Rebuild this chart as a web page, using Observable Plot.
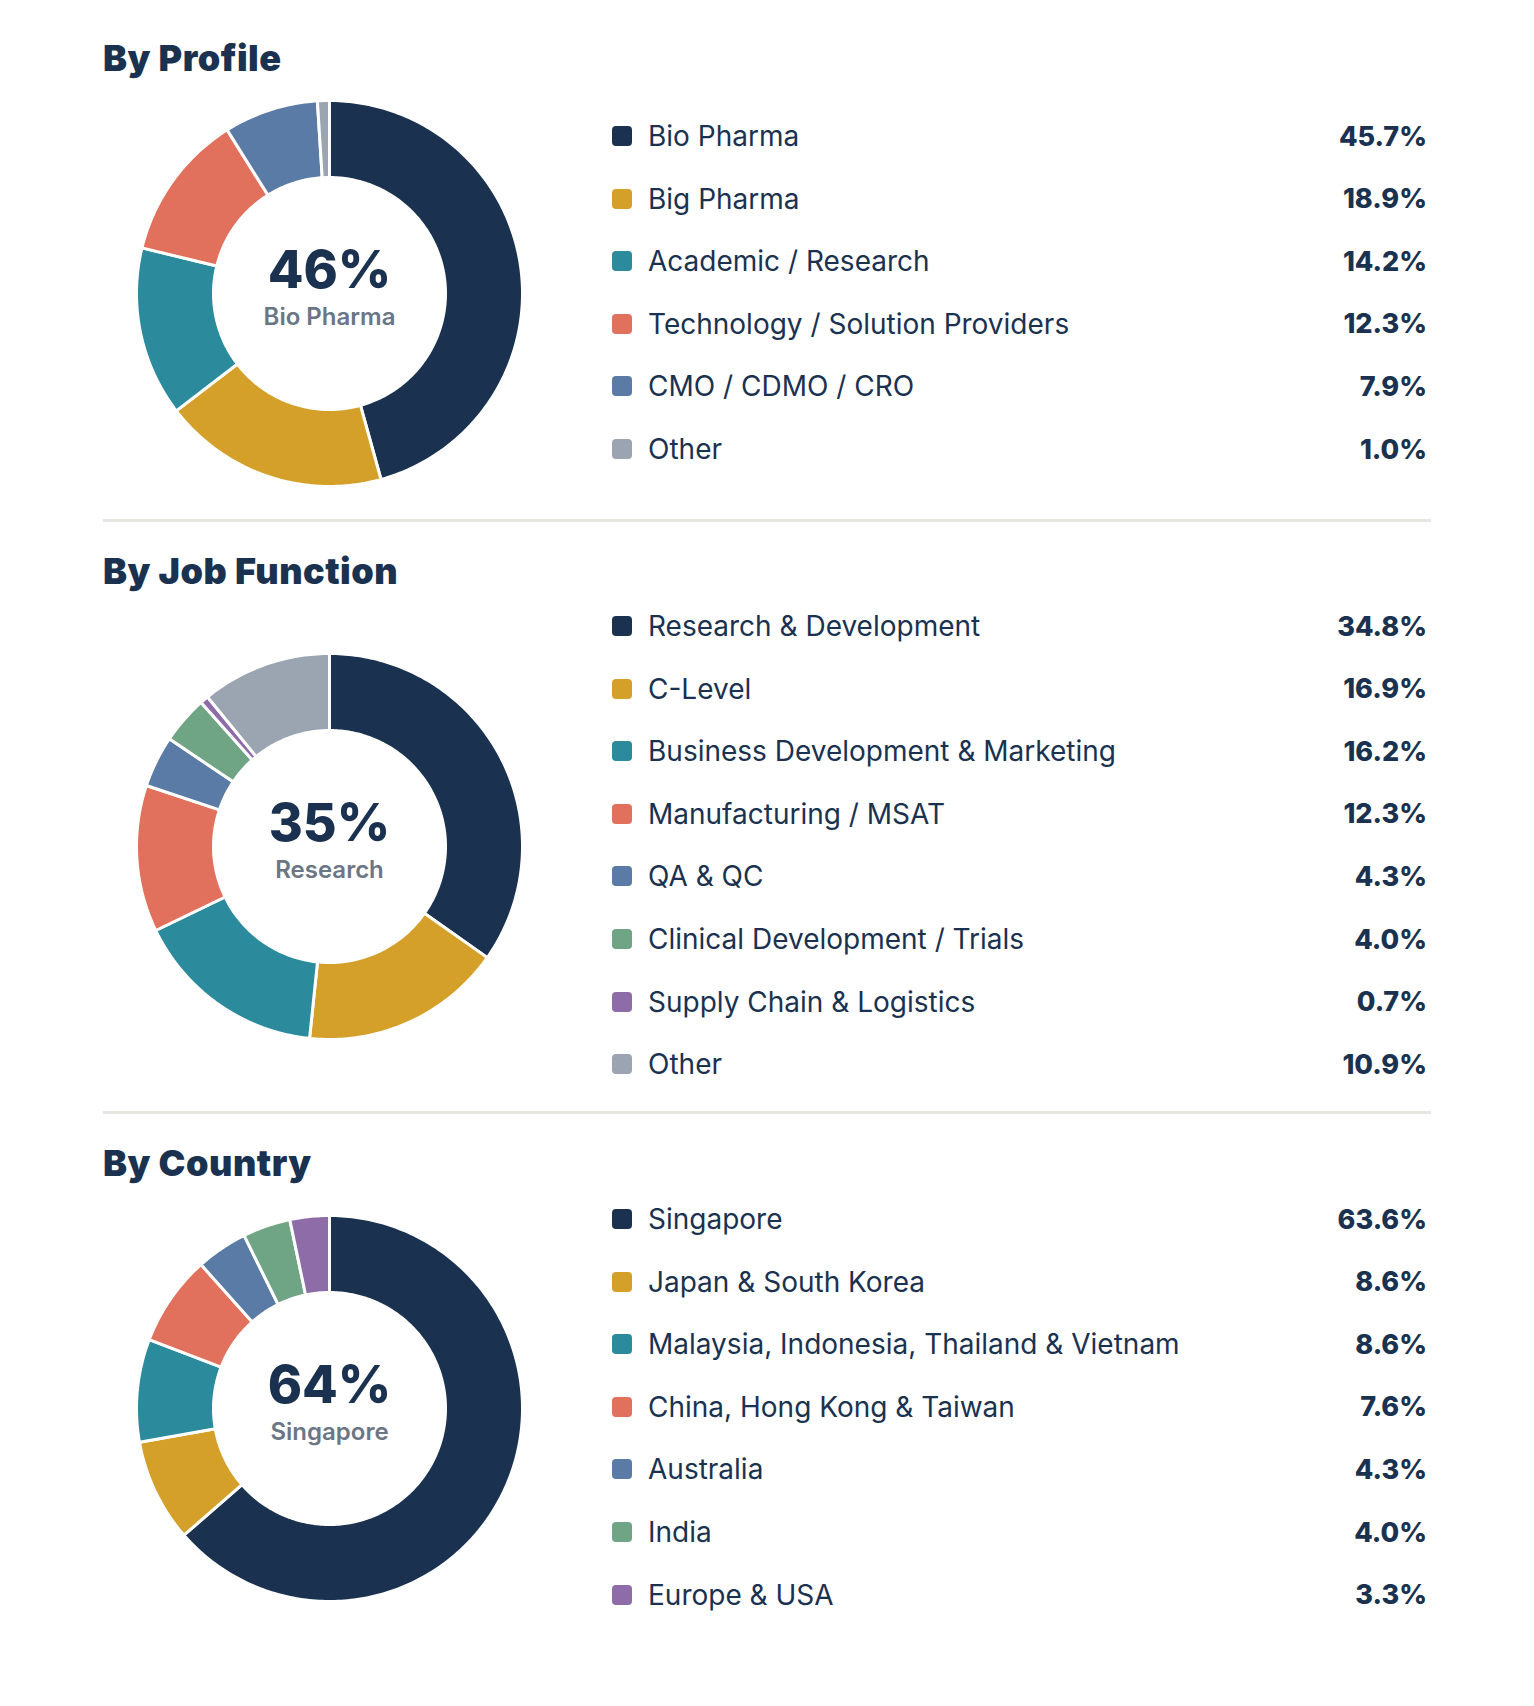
<!DOCTYPE html>
<html><head><meta charset="utf-8">
<script src="https://cdn.jsdelivr.net/npm/d3@7"></script>
<script src="https://cdn.jsdelivr.net/npm/@observablehq/plot@0.6"></script>
<style>
body{margin:0;background:#fff;font-family:Inter,"Open Sans",sans-serif;color:#1a324f;}
#root{position:relative;width:1534px;height:1706px;}
.title{position:absolute;left:103px;font-weight:900;font-size:36px;color:#1a324f;letter-spacing:0.5px;}
.sep{position:absolute;left:103px;width:1328px;height:3px;background:#e6e6df;}
.row{position:absolute;left:612px;width:815px;height:40px;display:flex;align-items:center;font-size:28px;}
.sw{width:20px;height:20px;border-radius:4px;margin-right:16px;}
.lab{flex:1;color:#1a324f;}
.val{font-weight:800;font-size:27px;}
.chart{position:absolute;}
</style></head><body><div id="root"></div>
<script>
const profileCats=["Bio Pharma","Big Pharma","Academic / Research","Technology / Solution Providers","CMO / CDMO / CRO","Other"];
const profileVals=[45.7,18.9,14.2,12.3,7.9,1.0];
const profileColors=["#1a324f","#d4a02a","#2b8a9b","#e1705c","#5a7ba5","#9ba5b1"];
const jobCats=["Research & Development","C-Level","Business Development & Marketing","Manufacturing / MSAT","QA & QC","Clinical Development / Trials","Supply Chain & Logistics","Other"];
const jobVals=[34.8,16.9,16.2,12.3,4.3,4.0,0.7,10.9];
const jobColors=["#1a324f","#d4a02a","#2b8a9b","#e1705c","#5a7ba5","#6fa585","#8e6ca8","#9ba5b1"];
const countryCats=["Singapore","Japan & South Korea","Malaysia, Indonesia, Thailand & Vietnam","China, Hong Kong & Taiwan","Australia","India","Europe & USA"];
const countryVals=[63.6,8.6,8.6,7.6,4.3,4.0,3.3];
const countryColors=["#1a324f","#d4a02a","#2b8a9b","#e1705c","#5a7ba5","#6fa585","#8e6ca8"];

const sections=[
 {title:"By Profile",top:0,cats:profileCats,vals:profileVals,colors:profileColors,big:"46%",sub:"Bio Pharma"},
 {title:"By Job Function",top:513,cats:jobCats,vals:jobVals,colors:jobColors,big:"35%",sub:"Research"},
 {title:"By Country",top:1105,cats:countryCats,vals:countryVals,colors:countryColors,big:"64%",sub:"Singapore"}
];
const root=document.getElementById("root");
const R=1, r=116/193;
sections.forEach((s,si)=>{
  const t=document.createElement("div");t.className="title";t.textContent=s.title;t.style.top=(s.top+36)+"px";root.appendChild(t);
  if(si>0){const l=document.createElement("div");l.className="sep";l.style.top=(s.top+6)+"px";root.appendChild(l);}
  const data=s.cats.map((c,i)=>({cat:c,v:s.vals[i]}));
  const arcs=d3.pie().sort(null).value(d=>d.v)(data);
  const pts=[];
  arcs.forEach(a=>{
    const n=Math.max(4,Math.ceil((a.endAngle-a.startAngle)*60));
    const ring=[];
    for(let k=0;k<=n;k++){const t=a.startAngle+(a.endAngle-a.startAngle)*k/n;ring.push([R*Math.sin(t),R*Math.cos(t)]);}
    for(let k=n;k>=0;k--){const t=a.startAngle+(a.endAngle-a.startAngle)*k/n;ring.push([r*Math.sin(t),r*Math.cos(t)]);}
    ring.push(ring[0]);
    ring.forEach(p=>pts.push({cat:a.data.cat,x:p[0],y:p[1]}));
  });
  const size=400, pad=7;
  const svg=Plot.plot({width:size,height:size,margin:pad,axis:null,
    x:{domain:[-1,1]},y:{domain:[-1,1]},
    color:{domain:s.cats,range:s.colors},
    marks:[
      Plot.line(pts,{x:"x",y:"y",z:"cat",fill:"cat",stroke:"white",strokeWidth:3,strokeLinejoin:"round"}),
      Plot.text([s.big],{x:0,y:0,dy:-22,text:d=>d,fontSize:52,fontWeight:800,fill:"#1a324f",fontFamily:"Inter"}),
      Plot.text([s.sub],{x:0,y:0,dy:24,text:d=>d,fontSize:24,fontWeight:600,fill:"#6b7685",fontFamily:"Inter"})
    ]});
  const wrap=document.createElement("div");wrap.className="chart";
  const cy=[293,846,1408][si];
  wrap.style.left=(329-size/2)+"px";wrap.style.top=(cy-size/2)+"px";
  wrap.appendChild(svg);root.appendChild(wrap);
  const rowStart=[136,626,1219][si];
  s.cats.forEach((c,i)=>{
    const row=document.createElement("div");row.className="row";row.style.top=(rowStart+i*62.6-20)+"px";
    row.innerHTML=`<div class="sw" style="background:${s.colors[i]}"></div><div class="lab"></div><div class="val">${s.vals[i].toFixed(1)}%</div>`;
    row.querySelector(".lab").textContent=c;root.appendChild(row);
  });
});
</script></body></html>
